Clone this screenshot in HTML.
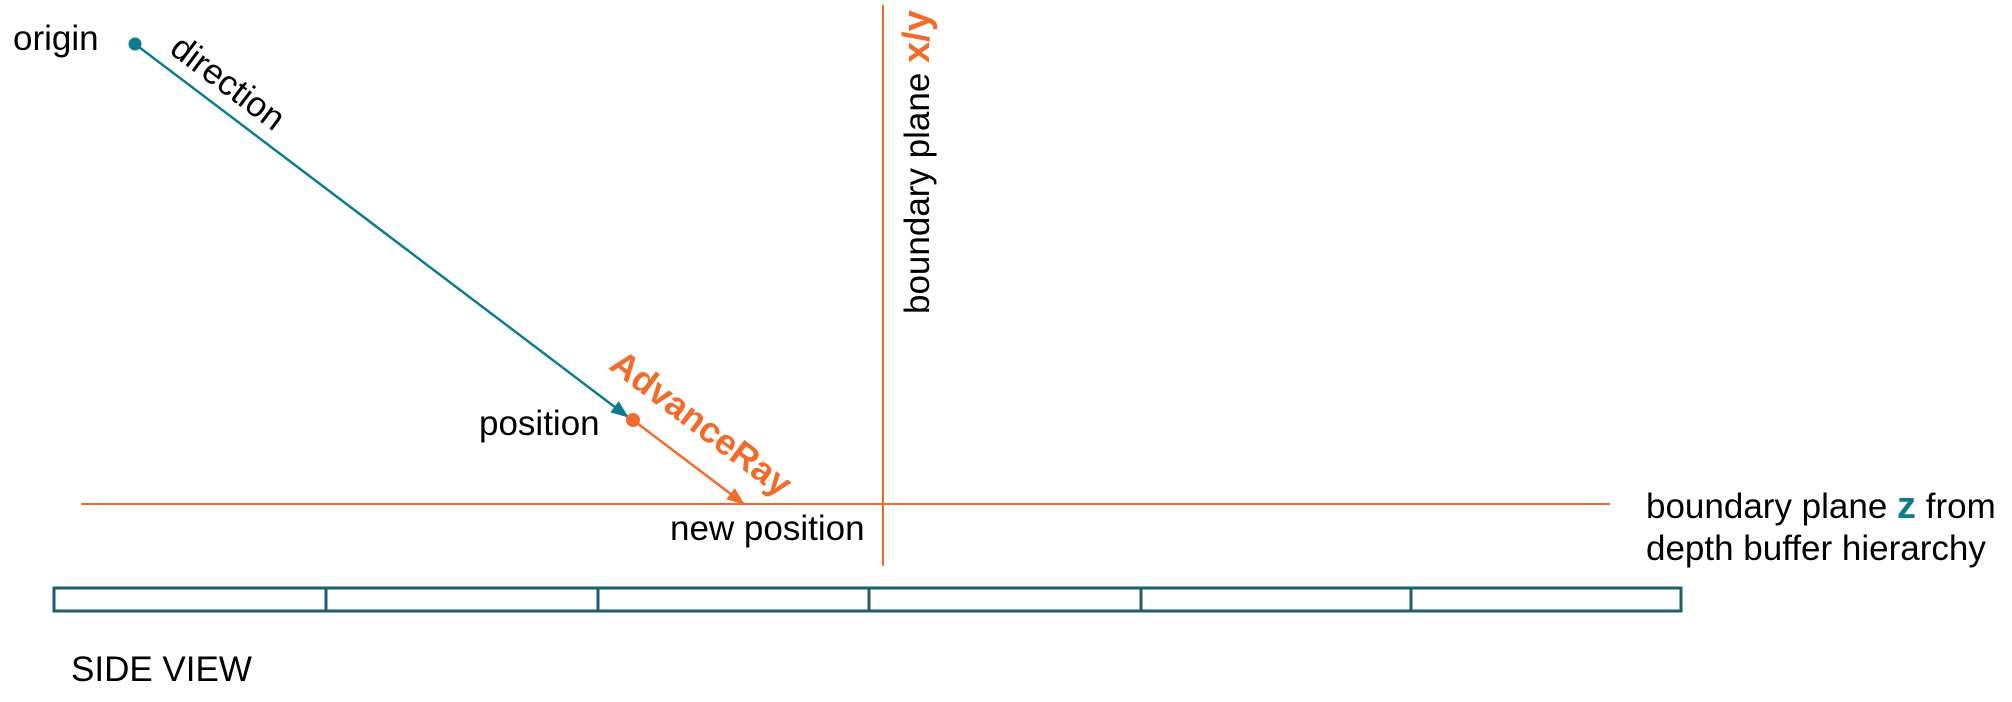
<!DOCTYPE html>
<html><head><meta charset="utf-8"><style>
html,body{margin:0;padding:0;background:#fff;}
svg{display:block;}
text{font-family:"Liberation Sans",Arial,sans-serif;font-size:35px;fill:#000;}
</style></head><body>
<svg width="2012" height="702" viewBox="0 0 2012 702" xmlns="http://www.w3.org/2000/svg">
<defs>
<marker id="ao" markerWidth="18" markerHeight="14" refX="17" refY="7" orient="auto" markerUnits="userSpaceOnUse"><path d="M0,0 L18,7 L0,14 Z" fill="#f26b2a"/></marker>
<marker id="at2" markerWidth="18" markerHeight="14" refX="17" refY="7" orient="auto" markerUnits="userSpaceOnUse"><path d="M0,0 L18,7 L0,14 Z" fill="#0e7c8f"/></marker>
</defs>
<line x1="81" y1="504" x2="1610" y2="504" stroke="#f26b2a" stroke-width="2"/>
<line x1="883" y1="5" x2="883" y2="566" stroke="#f26b2a" stroke-width="2"/>
<line x1="135" y1="44" x2="628" y2="417" stroke="#0e7c8f" stroke-width="2.5" marker-end="url(#at2)"/>
<circle cx="135" cy="44" r="6.5" fill="#0e7c8f"/>
<line x1="633" y1="420" x2="744" y2="504" stroke="#f26b2a" stroke-width="2.5" marker-end="url(#ao)"/>
<circle cx="633" cy="420" r="7" fill="#f26b2a"/>
<rect x="54" y="588" width="1627" height="23" fill="none" stroke="#1f5f6b" stroke-width="3"/>
<g stroke="#1f5f6b" stroke-width="3">
<line x1="326" y1="588" x2="326" y2="611"/><line x1="598" y1="588" x2="598" y2="611"/>
<line x1="869" y1="588" x2="869" y2="611"/><line x1="1141" y1="588" x2="1141" y2="611"/>
<line x1="1411" y1="588" x2="1411" y2="611"/>
</g>
<text x="13" y="50">origin</text>
<text x="221" y="92" text-anchor="middle" transform="rotate(37 221 92)">direction</text>
<text x="479" y="435">position</text>
<text x="694" y="433" text-anchor="middle" transform="rotate(37 694 433)" style="font-weight:bold;fill:#f26b2a;font-size:36px">AdvanceRay</text>
<text x="670" y="540">new position</text>
<text x="929" y="314" transform="rotate(-90 929 314)">boundary plane <tspan style="font-weight:bold;fill:#f26b2a;font-size:38px">x/y</tspan></text>
<text x="1646" y="518">boundary plane <tspan style="font-weight:bold;fill:#0e7c8f;font-size:38px">z</tspan> from</text>
<text x="1646" y="560">depth buffer hierarchy</text>
<text x="71" y="681">SIDE VIEW</text>
</svg>
</body></html>
